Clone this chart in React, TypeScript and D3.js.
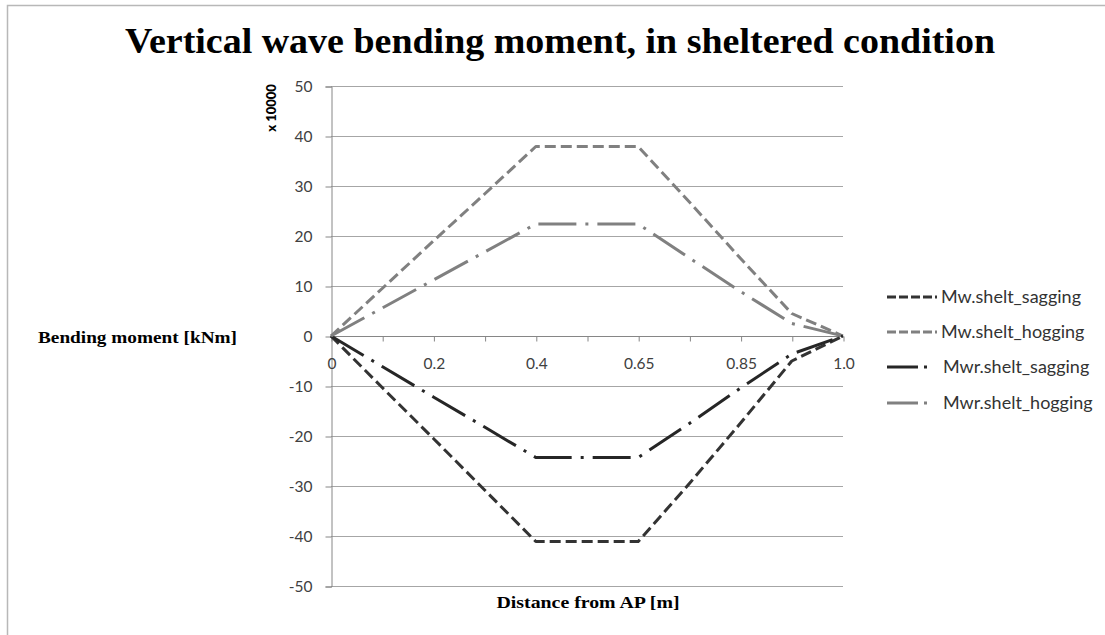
import React, { useRef, useEffect } from 'react';
import * as d3 from 'd3';

// categories along the hull (labels shown every second one, like Excel)
const categories = ['0', '0.1', '0.2', '0.3', '0.4', '0.5', '0.65', '0.75', '0.85', '0.95', '1.0'];
const shownLabels = ['0', '0.2', '0.4', '0.65', '0.85', '1.0'];
const yTicks = [-50, -40, -30, -20, -10, 0, 10, 20, 30, 40, 50];

// values in x 10000 kNm
const mwSagging = [0, -10.3, -20.5, -30.8, -41.1, -41.1, -41.1, -29.5, -17.4, -5.0, 0];
const mwHogging = [0, 9.5, 19.0, 28.4, 37.9, 37.9, 37.9, 26.8, 15.5, 4.5, 0];
const mwrSagging = [0, -6.1, -12.2, -18.2, -24.3, -24.3, -24.3, -17.5, -10.4, -3.6, 0];
const mwrHogging = [0, 5.6, 11.2, 16.8, 22.4, 22.4, 22.4, 15.6, 8.9, 2.5, 0];

const seriesNames = ['Mw.shelt_sagging', 'Mw.shelt_hogging', 'Mwr.shelt_sagging', 'Mwr.shelt_hogging'];

const WIDTH = 1105;
const HEIGHT = 635;

export default function App() {
  const svgRef = useRef<SVGSVGElement>(null);

  useEffect(() => {
    document.body.style.margin = '0';
    if (!svgRef.current) return;
    const svg = d3.select(svgRef.current);
    svg.selectAll('*').remove();

    const plot = { left: 331, right: 843, top: 86, bottom: 586 };
    const labelFont = 'Lato, "Open Sans", sans-serif';
    const serif = '"Liberation Serif", "Times New Roman", serif';

    const x = d3.scalePoint<string>().domain(categories).range([plot.left, plot.right]);
    const y = d3.scaleLinear().domain([-50, 50]).range([plot.bottom, plot.top]);

    // chart frame
    svg.append('path')
      .attr('d', `M7.5,${HEIGHT} V5.5 H${WIDTH}`)
      .attr('fill', 'none')
      .attr('stroke', '#b8b8b8')
      .attr('stroke-width', 1.5);

    // title
    svg.append('text')
      .attr('x', 560)
      .attr('y', 53)
      .attr('text-anchor', 'middle')
      .attr('textLength', 870)
      .attr('lengthAdjust', 'spacingAndGlyphs')
      .style('font-family', serif)
      .style('font-weight', 'bold')
      .style('font-size', '35px')
      .style('fill', '#000')
      .text('Vertical wave bending moment, in sheltered condition');

    // grid lines
    svg.append('g')
      .selectAll('line')
      .data(yTicks.filter(d => d !== 0))
      .join('line')
      .attr('x1', plot.left)
      .attr('x2', plot.right)
      .attr('y1', d => Math.round(y(d)) + 0.5)
      .attr('y2', d => Math.round(y(d)) + 0.5)
      .attr('stroke', '#a6a6a6')
      .attr('stroke-width', 1);

    // y axis
    const yAxis = svg.append('g')
      .attr('transform', `translate(${plot.left + 0.5},0.5)`)
      .call(d3.axisLeft(y).tickValues(yTicks).tickSize(6).tickPadding(13).tickFormat(d => String(d)));
    yAxis.select('.domain').attr('stroke', '#868686');
    yAxis.selectAll('.tick line').attr('stroke', '#868686');
    yAxis.selectAll('text')
      .style('font-family', labelFont)
      .style('font-size', '15.5px')
      .style('fill', '#404040');

    // x axis on the zero line
    const xAxis = svg.append('g')
      .attr('transform', `translate(0.5,${Math.round(y(0)) + 0.5})`)
      .call(d3.axisBottom(x).tickSize(5).tickPadding(16)
        .tickFormat(d => shownLabels.includes(d) ? d : ''));
    xAxis.select('.domain').attr('stroke', '#868686').attr('d', `M${plot.left},0H${plot.right}`);
    xAxis.selectAll('.tick line').attr('stroke', '#868686');
    xAxis.selectAll('text')
      .style('font-family', labelFont)
      .style('font-size', '15.5px')
      .style('fill', '#404040');

    // axis titles
    svg.append('text')
      .attr('x', 38)
      .attr('y', 343)
      .attr('textLength', 199)
      .attr('lengthAdjust', 'spacingAndGlyphs')
      .style('font-family', serif)
      .style('font-weight', 'bold')
      .style('font-size', '16px')
      .text('Bending moment [kNm]');

    svg.append('text')
      .attr('x', 588)
      .attr('y', 608)
      .attr('text-anchor', 'middle')
      .attr('textLength', 183)
      .attr('lengthAdjust', 'spacingAndGlyphs')
      .style('font-family', serif)
      .style('font-weight', 'bold')
      .style('font-size', '16px')
      .text('Distance from AP [m]');

    svg.append('text')
      .attr('transform', 'translate(276,108) rotate(-90)')
      .attr('text-anchor', 'middle')
      .style('font-family', labelFont)
      .style('font-weight', 900)
      .style('font-size', '13px')
      .style('fill', '#000')
      .text('x 10000');

    // series
    const series = [
      { name: seriesNames[0], values: mwSagging, color: '#333333', dash: '11 5' },
      { name: seriesNames[1], values: mwHogging, color: '#808080', dash: '11 5' },
      { name: seriesNames[2], values: mwrSagging, color: '#262626', dash: '38 9 3 9' },
      { name: seriesNames[3], values: mwrHogging, color: '#808080', dash: '38 9 3 9' },
    ];

    const line = d3.line<number>()
      .x((_, i) => x(categories[i])!)
      .y(d => y(d));

    svg.append('g')
      .selectAll('path')
      .data(series)
      .join('path')
      .attr('d', d => line(d.values))
      .attr('fill', 'none')
      .attr('stroke', d => d.color)
      .attr('stroke-width', 3)
      .attr('stroke-dasharray', d => d.dash)
      .attr('stroke-linejoin', 'round');

    // legend
    const legend = svg.append('g');
    const legendY = [297, 332, 367, 403];
    series.forEach((s, i) => {
      legend.append('line')
        .attr('x1', 887)
        .attr('x2', 937)
        .attr('y1', legendY[i])
        .attr('y2', legendY[i])
        .attr('stroke', s.color)
        .attr('stroke-width', 3)
        .attr('stroke-dasharray', i < 2 ? '9 3' : '31 6 3 20');
      legend.append('text')
        .attr('x', i < 2 ? 941 : 943)
        .attr('y', legendY[i] + 6)
        .style('font-family', labelFont)
        .style('font-size', '18px')
        .style('fill', '#333')
        .text(s.name);
    });
  }, []);

  return (
    <svg
      ref={svgRef}
      width={WIDTH}
      height={HEIGHT}
      style={{ position: 'absolute', left: 0, top: 0, background: '#fff' }}
    />
  );
}
